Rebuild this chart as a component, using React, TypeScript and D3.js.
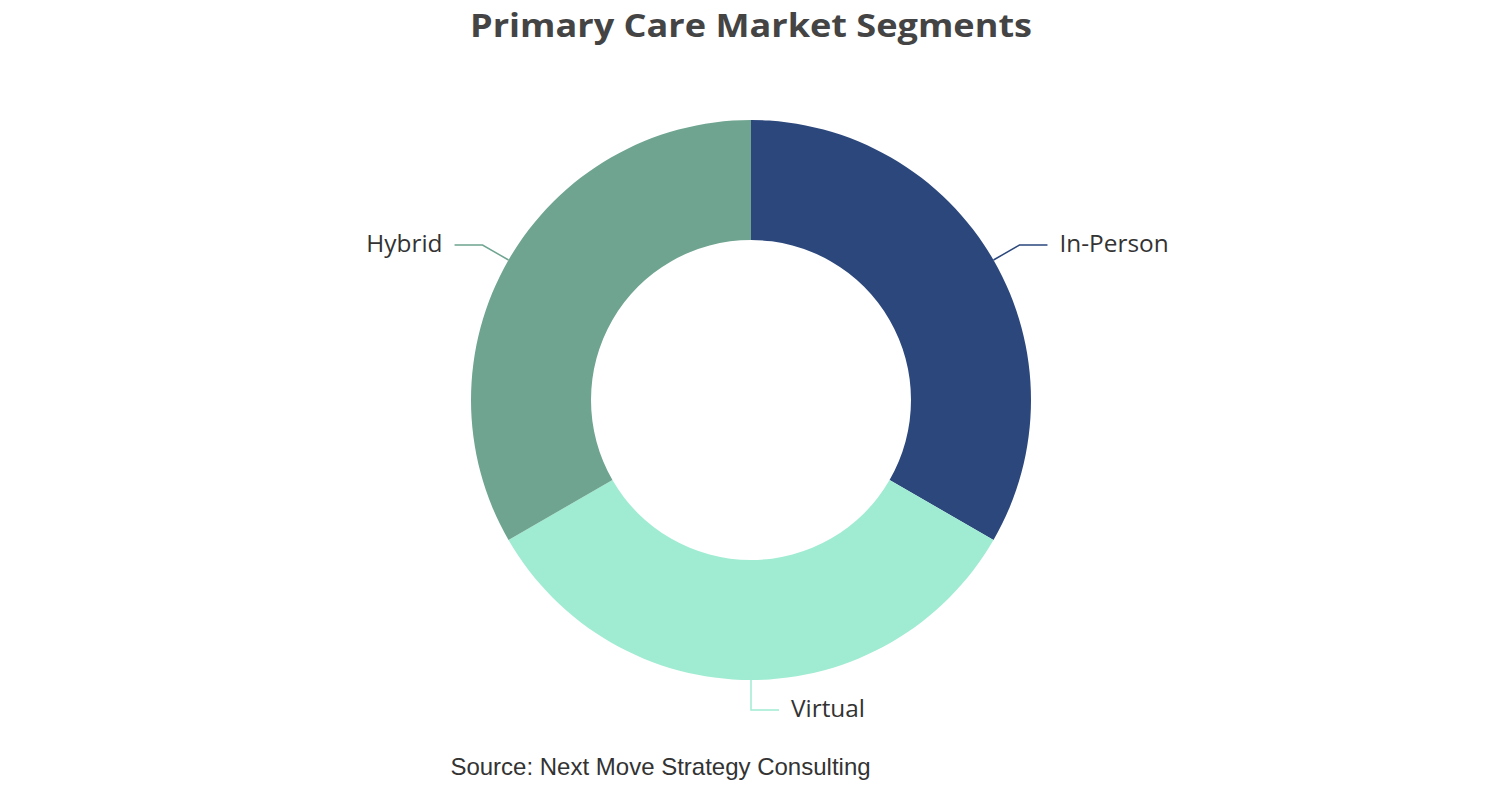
import React from "react";
import * as d3 from "d3";

const categories = ["In-Person", "Virtual", "Hybrid"];
const values = [1, 1, 1];
const colors = ["#2b477c", "#a0ecd2", "#6ea490"];
const titleText = "Primary Care Market Segments";
const sourceText = "Source: Next Move Strategy Consulting";

const W = 1502;
const H = 800;
const cx = 751;
const cy = 400;
const outerR = 280;
const innerR = 160;

export default function App() {
  const pie = d3.pie<number>().value((d) => d).sort(null);
  const arcs = pie(values);
  const arcGen = d3.arc<d3.PieArcDatum<number>>().innerRadius(innerR).outerRadius(outerR);

  return (
    <svg width={W} height={H} style={{ position: "absolute", left: 0, top: 0 }}>
      <rect width={W} height={H} fill="#fff" />
      <text
        x={cx}
        y={37}
        textAnchor="middle"
        fontFamily="'Open Sans', sans-serif"
        fontWeight="bold"
        fontSize={33}
        fill="#444"
        textLength={562}
        lengthAdjust="spacingAndGlyphs"
      >
        {titleText}
      </text>
      <g transform={`translate(${cx},${cy})`}>
        {arcs.map((a, i) => (
          <path key={i} d={arcGen(a) || ""} fill={colors[i]} />
        ))}
        {arcs.map((a, i) => {
          const mid = (a.startAngle + a.endAngle) / 2;
          const sx = Math.sin(mid) * outerR;
          const sy = -Math.cos(mid) * outerR;
          const r2 = outerR + 30;
          const ex = Math.sin(mid) * r2;
          const ey = -Math.cos(mid) * r2;
          const right = Math.sin(mid) >= -1e-6;
          const hx = ex + (right ? 28 : -28);
          const tx = hx + (right ? 12 : -12);
          return (
            <g key={"l" + i}>
              <polyline
                points={`${sx},${sy} ${ex},${ey} ${hx},${ey}`}
                fill="none"
                stroke={colors[i]}
                strokeWidth={1.5}
              />
              <text
                x={tx}
                y={ey}
                dy="0.28em"
                textAnchor={right ? "start" : "end"}
                fontFamily="'Open Sans', sans-serif"
                fontSize={24.4}
                fill="#333"
              >
                {categories[i]}
              </text>
            </g>
          );
        })}
      </g>
      <text
        x={660.5}
        y={775}
        textAnchor="middle"
        fontFamily="'Liberation Sans', Arial, sans-serif"
        fontSize={24}
        fill="#333"
      >
        {sourceText}
      </text>
    </svg>
  );
}
